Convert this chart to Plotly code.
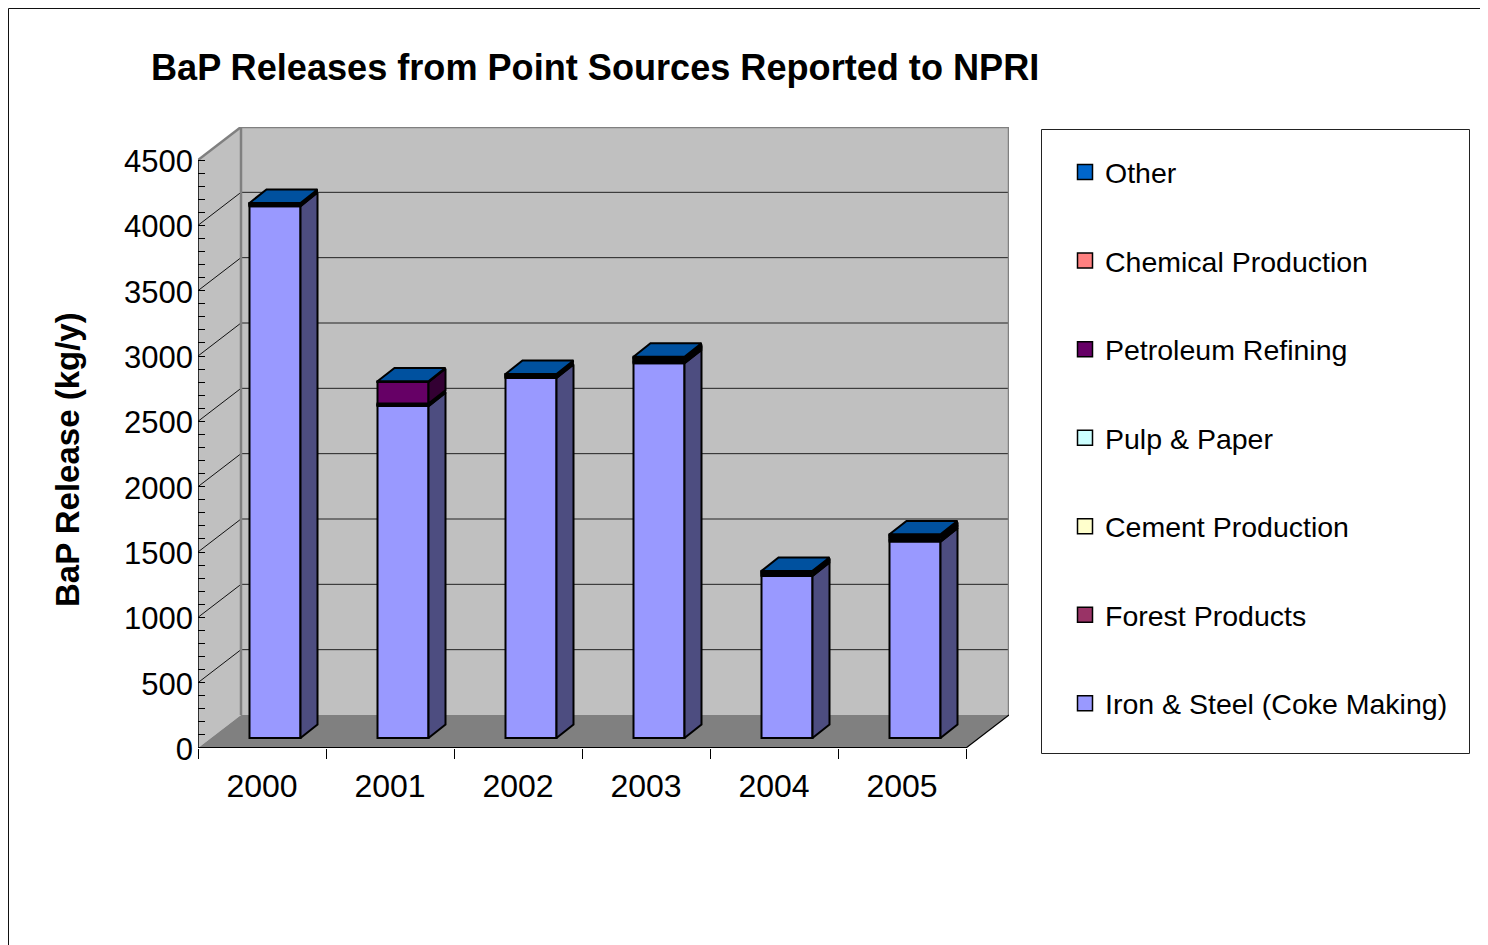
import plotly.graph_objects as go

years = ["2000", "2001", "2002", "2003", "2004", "2005"]
iron_steel = [4070, 2540, 2755, 2868, 1240, 1503]
forest = [6, 8, 7, 10, 9, 13]
cement = [5, 5, 6, 10, 8, 11]
pulp = [5, 6, 6, 10, 8, 11]
petroleum = [4, 165, 6, 10, 8, 11]
chemical = [3, 3, 3, 5, 3, 5]
other = [2, 3, 3, 5, 3, 5]

series_names = ["Iron & Steel (Coke Making)", "Forest Products", "Cement Production",
                "Pulp & Paper", "Petroleum Refining", "Chemical Production", "Other"]
series_values = [iron_steel, forest, cement, pulp, petroleum, chemical, other]
front_colors = ["#9999FF", "#993366", "#FFFFCC", "#CCFFFF", "#660066", "#FF8080", "#0066CC"]
side_colors = ["#4D4D80", "#4D1A33", "#808066", "#668080", "#330033", "#804040", "#003366"]
top_color = "#00519F"

y_major = list(range(0, 4501, 500))
y_minor = list(range(0, 4501, 100))

# figure geometry (pixels of the page; the figure starts at 8,8 inside the body)
W, H = 1500, 937
L, R, T, B = 190, 1001, 119, 740
PX_X = 128.0
PX_Y = 588 / 4500
wall_dx = 43 / PX_X
wall_dy = 33 / PX_Y
bar_shift_x = 13 / PX_X
bar_shift_y = 10 / PX_Y
bar_dx = 17 / PX_X
bar_dy = 13.4 / PX_Y
bar_w = 51 / PX_X
EDGE = 2

def px(v):
    return (v - 8 - L) / (R - L)

def py(v):
    return (B - (v - 8)) / (B - T)

n = len(years)
shapes = []
wall = "#C0C0C0"
grey = "#808080"
# side wall, back wall and floor
shapes.append(dict(type="path", layer="below", xref="x", yref="y", fillcolor=wall, line=dict(width=0),
                   path=f"M0,0 L0,4500 L{wall_dx},{4500 + wall_dy} L{wall_dx},{wall_dy} Z"))
shapes.append(dict(type="rect", layer="below", xref="x", yref="y", fillcolor=wall, line=dict(width=0),
                   x0=wall_dx, x1=n + wall_dx, y0=wall_dy, y1=4500 + wall_dy))
shapes.append(dict(type="path", layer="below", xref="x", yref="y", fillcolor=grey, line=dict(width=0),
                   path=f"M0,0 L{wall_dx},{wall_dy} L{n + wall_dx},{wall_dy} L{n},0 Z"))
# gridlines
for v in y_major[1:-1]:
    shapes.append(dict(type="line", layer="below", xref="x", yref="y", x0=0, y0=v,
                       x1=wall_dx, y1=v + wall_dy, line=dict(color="#111111", width=1)))
    shapes.append(dict(type="line", layer="below", xref="x", yref="y", x0=wall_dx, y0=v + wall_dy,
                       x1=n + wall_dx, y1=v + wall_dy, line=dict(color="#222222", width=1)))
# wall edges
for (x0, y0, x1, y1) in [(0, 4500, wall_dx, 4500 + wall_dy),
                         (wall_dx, 4500 + wall_dy, n + wall_dx, 4500 + wall_dy),
                         (n + wall_dx, 4500 + wall_dy, n + wall_dx, wall_dy),
                         (wall_dx, 4500 + wall_dy, wall_dx, wall_dy)]:
    shapes.append(dict(type="line", layer="below", xref="x", yref="y", x0=x0, y0=y0, x1=x1, y1=y1,
                       line=dict(color=grey, width=2.5)))
shapes.append(dict(type="line", layer="below", xref="x", yref="y", x0=0, y0=0, x1=0, y1=4500,
                   line=dict(color="#000000", width=1.5)))
shapes.append(dict(type="line", layer="below", xref="x", yref="y", x0=0, y0=0, x1=n, y1=0,
                   line=dict(color="#000000", width=2)))
shapes.append(dict(type="line", layer="below", xref="x", yref="y", x0=n, y0=0, x1=n + wall_dx, y1=wall_dy,
                   line=dict(color="#000000", width=1.2)))
# legend box and page frame
shapes.append(dict(type="rect", xref="paper", yref="paper", x0=px(1041.5), x1=px(1469.5),
                   y0=py(753.5), y1=py(129.5), line=dict(color="#222222", width=1), fillcolor="white"))
shapes.append(dict(type="line", xref="paper", yref="paper", x0=px(8.5), x1=px(8.5), y0=py(8.5), y1=py(945),
                   line=dict(color="#111111", width=1)))
shapes.append(dict(type="line", xref="paper", yref="paper", x0=px(8.5), x1=px(1508), y0=py(8.5), y1=py(8.5),
                   line=dict(color="#111111", width=1)))

fig = go.Figure()
centers = [i + 0.5 + bar_shift_x for i in range(n)]
bottom = [bar_shift_y] * n
for name, values, front, side in zip(series_names, series_values, front_colors, side_colors):
    fig.add_trace(go.Bar(x=centers, y=values, base=bottom, width=bar_w, name=name, showlegend=False,
                         marker=dict(color=front, line=dict(color="#000000", width=EDGE))))
    xs, ys = [], []
    for c, b, v in zip(centers, bottom, values):
        r = c + bar_w / 2
        xs += [r, r + bar_dx, r + bar_dx, r, r, None]
        ys += [b, b + bar_dy, b + v + bar_dy, b + v, b, None]
    fig.add_trace(go.Scatter(x=xs, y=ys, mode="lines", fill="toself", fillcolor=side, showlegend=False,
                             hoverinfo="skip", line=dict(color="#000000", width=EDGE), cliponaxis=False))
    bottom = [b + v for b, v in zip(bottom, values)]

xs, ys = [], []
for c, t in zip(centers, bottom):
    l, r = c - bar_w / 2, c + bar_w / 2
    xs += [l, r, r + bar_dx, l + bar_dx, l, None]
    ys += [t, t, t + bar_dy, t + bar_dy, t, None]
fig.add_trace(go.Scatter(x=xs, y=ys, mode="lines", fill="toself", fillcolor=top_color, showlegend=False,
                         hoverinfo="skip", line=dict(color="#000000", width=EDGE), cliponaxis=False))

# legend entries, top to bottom
for name, front in reversed(list(zip(series_names, front_colors))):
    fig.add_trace(go.Scatter(x=[None], y=[None], mode="markers", name=name, legendgroup=name,
                             marker=dict(symbol="square", size=15, color=front,
                                         line=dict(color="#000000", width=1.5))))

FONT = "Liberation Sans, Arial, sans-serif"
fig.update_layout(
    width=W, height=H, margin=dict(l=L, r=W - R, t=T, b=H - B, autoexpand=False),
    paper_bgcolor="white", plot_bgcolor="rgba(0,0,0,0)", barmode="overlay", shapes=shapes,
    font=dict(family=FONT, color="#000000"),
    title=dict(text="<b>BaP Releases from Point Sources Reported to NPRI</b>", font=dict(size=36.12, family=FONT, color="#000000"),
               x=(151 - 8) / W, xanchor="left", xref="container", y=1 - (67 - 8) / H, yanchor="middle", yref="container"),
    xaxis=dict(range=[0, n + wall_dx], tickvals=[i + 0.5 for i in range(n)], ticktext=years, ticks="",
               tickfont=dict(size=32), showgrid=False, zeroline=False, showline=False,
               ticklabelstandoff=16,
               minor=dict(tickvals=list(range(n + 1)), ticks="outside", ticklen=10, tickwidth=1, tickcolor="#000000", showgrid=False)),
    yaxis=dict(range=[0, (B - T) / PX_Y], tickvals=y_major, ticks="inside", ticklen=7, tickwidth=1, tickcolor="#000000",
               tickfont=dict(size=31), showgrid=False, zeroline=False, showline=False,
               ticklabelstandoff=4, ticklabelshift=1,
               minor=dict(tickvals=y_minor, ticks="inside", ticklen=7, tickwidth=1, tickcolor="#000000", showgrid=False)),
    annotations=[dict(text="<b>BaP Release (kg/y)</b>", xref="paper", yref="paper", x=px(68), y=py(460),
                      xanchor="center", yanchor="middle", textangle=-90, showarrow=False,
                      font=dict(size=33, family=FONT, color="#000000"))],
    legend=dict(x=px(1065), y=py(147), xanchor="left", yanchor="top", traceorder="grouped",
                tracegroupgap=48.5, font=dict(size=28.5, family=FONT), bgcolor="rgba(0,0,0,0)", borderwidth=0),
)
fig.write_html("out.html", default_width=W, default_height=H)
